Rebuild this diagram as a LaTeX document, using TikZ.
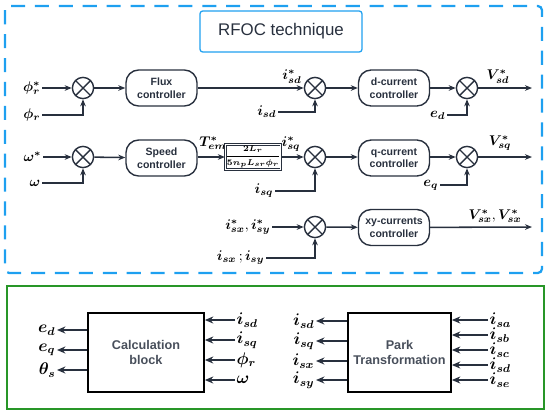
\documentclass[tikz,border=0pt]{standalone}
\usepackage{fontspec}
\setsansfont{Liberation Sans}
\usepackage{amsmath}
\usepackage{bm}
\usetikzlibrary{arrows.meta, positioning, calc}
\definecolor{mydark}{RGB}{40,48,62}
\definecolor{myblue}{RGB}{30,160,240}
\definecolor{mygreen}{RGB}{40,150,40}
\tikzset{
  line/.style={draw=mydark, line width=1.1pt},
  arrow/.style={draw=mydark, line width=1.1pt, -{Stealth[length=5pt,width=4pt]}},
  barrow/.style={draw=mydark, line width=1.6pt, -{Stealth[length=6pt,width=5pt]}},
  ctrl/.style={draw=mydark, line width=1pt, rectangle, rounded corners=9pt, align=center, font=\sffamily\bfseries\fontsize{7.5}{9}\selectfont, text=mydark, minimum width=1.775cm, minimum height=0.9cm, inner sep=1pt},
  sumjn/.style={draw=mydark, line width=1pt, circle, minimum size=0.53cm, inner sep=0pt, path picture={\draw[mydark, line width=1pt] (path picture bounding box.north west) -- (path picture bounding box.south east) (path picture bounding box.north east) -- (path picture bounding box.south west);}},
  sig/.style={inner sep=1pt, font=\normalsize},
  bsig/.style={inner sep=1pt, font=\large},
  bigblock/.style={draw=black, line width=1.2pt, rectangle, align=center, font=\sffamily\bfseries\small, text=mydark!85, minimum height=1.975cm}
}
\begin{document}
\begin{tikzpicture}[x=0.025cm, y=-0.025cm]
  \useasboundingbox (0,0) rectangle (550,416);
  % frames
  \draw [myblue, line width=1.6pt, dash pattern=on 10pt off 7pt, rounded corners=3pt] (5,6) rectangle (542,273);
  \draw [mygreen, line width=1.2pt] (7,286) rectangle (544,409);
  \node [draw=myblue, line width=0.9pt, rounded corners=2pt, minimum width=4.05cm, minimum height=1.025cm, font=\sffamily\large, text=mydark] (title) at (281,31.5) {RFOC technique};

  % flux / d axis
  \node [sig, anchor=east] (phirs) at (42,88) {$\bm{\phi_r^*}$};
  \node [sig, anchor=east] (phir) at (42,115) {$\bm{\phi_r}$};
  \node [sumjn] (s1) at (83,88) {};
  \node [ctrl] (flux) at (161.5,88) {Flux\\controller};
  \node [sumjn] (s2) at (315,88) {};
  \node [sig] (isds) at (292,77) {$\bm{i_{sd}^*}$};
  \node [sig, anchor=east] (isd) at (278,112) {$\bm{i_{sd}}$};
  \node [ctrl] (dcur) at (394,88) {d-current\\controller};
  \node [sumjn] (s3) at (467,88) {};
  \node [sig, anchor=east] (ed) at (447,115) {$\bm{e_d}$};
  \node [sig] (vsd) at (498,77) {$\bm{V_{sd}^*}$};
  \coordinate (vsdo) at (532,88);

  \draw [arrow] (phirs) -- (s1);
  \draw [arrow] (phir) -| (s1);
  \draw [arrow] (s1) -- (flux);
  \draw [arrow] (flux) -- (s2);
  \draw [arrow] (isd) -| (s2);
  \draw [arrow] (s2) -- (dcur);
  \draw [arrow] (dcur) -- (s3);
  \draw [arrow] (ed) -| (s3);
  \draw [arrow] (s3) -- (vsdo);

  % speed / q axis
  \node [sig, anchor=east] (ws) at (43,157) {$\bm{\omega^*}$};
  \node [sig, anchor=east] (w) at (42,183) {$\bm{\omega}$};
  \node [sumjn] (s4) at (83,157) {};
  \node [ctrl] (speed) at (161.5,158) {Speed\\controller};
  \node [sig] (tems) at (213,143) {$\bm{T_{em}^*}$};
  \node [draw=mydark, double, double distance=0.8pt, line width=0.5pt, minimum width=1.2cm, minimum height=0.62cm, inner sep=0pt, font=\fontsize{6.5}{7}\selectfont] (gain) at (253,157) {$\bm{\dfrac{2L_r}{5n_pL_{sr}\phi_r}}$};
  \node [sig] (isqs) at (291,144) {$\bm{i_{sq}^*}$};
  \node [sumjn] (s5) at (315,157) {};
  \node [sig, anchor=east] (isq) at (275,191) {$\bm{i_{sq}}$};
  \node [ctrl] (qcur) at (394,158) {q-current\\controller};
  \node [sumjn] (s6) at (467,157) {};
  \node [sig, anchor=east] (eq) at (440,185) {$\bm{e_q}$};
  \node [sig] (vsq) at (500,143) {$\bm{V_{sq}^*}$};
  \coordinate (vsqo) at (532,157);

  \draw [arrow] (ws) -- (s4);
  \draw [arrow] (w) -| (s4);
  \draw [arrow] (s4) -- (speed);
  \draw [arrow] (speed.east |- gain) -- (gain);
  \draw [arrow] (gain) -- (s5);
  \draw [arrow] (isq) -| (s5);
  \draw [arrow] (s5) -- (qcur.west |- s5);
  \draw [arrow] (qcur.east |- s6) -- (s6);
  \draw [arrow] (eq) -| (s6);
  \draw [arrow] (s6) -- (vsqo);

  % xy currents
  \node [sig, anchor=east] (ixys) at (272,227) {$\bm{i_{sx}^*}, \bm{i_{sy}^*}$};
  \node [sig, anchor=east] (ixy) at (266,258) {$\bm{i_{sx}}\,;\bm{i_{sy}}$};
  \node [sumjn] (s7) at (315,227) {};
  \node [ctrl] (xycur) at (394,227.5) {xy-currents\\controller};
  \node [sig] (vxy) at (495,216) {$\bm{V_{sx}^*}, \bm{V_{sx}^*}$};
  \coordinate (vxyo) at (532,227);

  \draw [arrow] (ixys) -- (s7);
  \draw [arrow] (ixy) -| (s7);
  \draw [arrow] (s7) -- (xycur);
  \draw [arrow] (xycur) -- (vxyo);

  % calculation block
  \node [bigblock, minimum width=2.9cm] (calc) at (146,352.5) {Calculation\\block};
  \node [bsig, anchor=east] (cd) at (57,330) {$\bm{e_d}$};
  \node [bsig, anchor=east] (cq) at (57,350) {$\bm{e_q}$};
  \node [bsig, anchor=east] (ct) at (57,370) {$\bm{\theta_s}$};
  \node [bsig, anchor=west] (ci1) at (235,320) {$\bm{i_{sd}}$};
  \node [bsig, anchor=west] (ci2) at (235,340) {$\bm{i_{sq}}$};
  \node [bsig, anchor=west] (ci3) at (235,360) {$\bm{\phi_r}$};
  \node [bsig, anchor=west] (ci4) at (235,380) {$\bm{\omega}$};
  \draw [barrow] (calc.west |- cd) -- (cd);
  \draw [barrow] (calc.west |- cq) -- (cq);
  \draw [barrow] (calc.west |- ct) -- (ct);
  \draw [barrow] (ci1) -- (calc.east |- ci1);
  \draw [barrow] (ci2) -- (calc.east |- ci2);
  \draw [barrow] (ci3) -- (calc.east |- ci3);
  \draw [barrow] (ci4) -- (calc.east |- ci4);

  % park transformation
  \node [bigblock, minimum width=2.575cm] (park) at (399.5,352.5) {Park\\Transformation};
  \node [bsig, anchor=east] (po1) at (316,321) {$\bm{i_{sd}}$};
  \node [bsig, anchor=east] (po2) at (316,341) {$\bm{i_{sq}}$};
  \node [bsig, anchor=east] (po3) at (316,361) {$\bm{i_{sx}}$};
  \node [bsig, anchor=east] (po4) at (316,380) {$\bm{i_{sy}}$};
  \node [bsig, anchor=west] (pi1) at (488,320) {$\bm{i_{sa}}$};
  \node [bsig, anchor=west] (pi2) at (488,335) {$\bm{i_{sb}}$};
  \node [bsig, anchor=west] (pi3) at (488,350) {$\bm{i_{sc}}$};
  \node [bsig, anchor=west] (pi4) at (488,365) {$\bm{i_{sd}}$};
  \node [bsig, anchor=west] (pi5) at (488,380) {$\bm{i_{se}}$};
  \draw [barrow] (park.west |- po1) -- (po1);
  \draw [barrow] (park.west |- po2) -- (po2);
  \draw [barrow] (park.west |- po3) -- (po3);
  \draw [barrow] (park.west |- po4) -- (po4);
  \draw [barrow] (pi1) -- (park.east |- pi1);
  \draw [barrow] (pi2) -- (park.east |- pi2);
  \draw [barrow] (pi3) -- (park.east |- pi3);
  \draw [barrow] (pi4) -- (park.east |- pi4);
  \draw [barrow] (pi5) -- (park.east |- pi5);
\end{tikzpicture}
\end{document}
